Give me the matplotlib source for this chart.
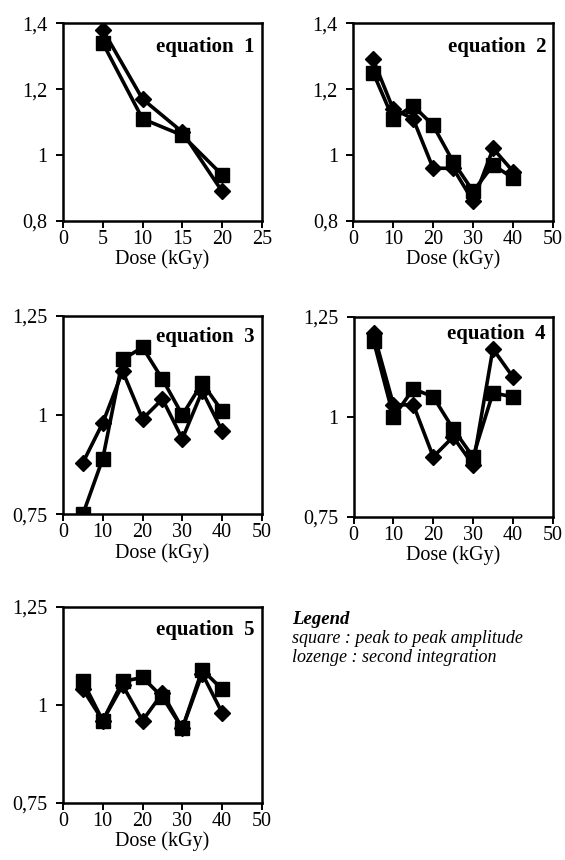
import matplotlib
matplotlib.use("Agg")
import matplotlib.pyplot as plt

plt.rcParams['font.family'] = ['Liberation Serif', 'DejaVu Serif']

dose_short = [5, 10, 15, 20]
dose = [5, 10, 15, 20, 25, 30, 35, 40]

# square : peak to peak amplitude, lozenge : second integration
eq1_square = [1.34, 1.11, 1.06, 0.94]
eq1_lozenge = [1.38, 1.17, 1.07, 0.89]
eq2_square = [1.25, 1.11, 1.15, 1.09, 0.98, 0.89, 0.97, 0.93]
eq2_lozenge = [1.29, 1.14, 1.11, 0.96, 0.96, 0.86, 1.02, 0.95]
eq3_square = [0.75, 0.89, 1.14, 1.17, 1.09, 1.00, 1.08, 1.01]
eq3_lozenge = [0.88, 0.98, 1.11, 0.99, 1.04, 0.94, 1.06, 0.96]
eq4_square = [1.19, 1.00, 1.07, 1.05, 0.97, 0.90, 1.06, 1.05]
eq4_lozenge = [1.21, 1.03, 1.03, 0.90, 0.95, 0.88, 1.17, 1.10]
eq5_square = [1.06, 0.96, 1.06, 1.07, 1.02, 0.94, 1.09, 1.04]
eq5_lozenge = [1.04, 0.96, 1.05, 0.96, 1.03, 0.94, 1.08, 0.98]

yt_a = [0.8, 1.0, 1.2, 1.4]
yl_a = ['0,8', '1', '1,2', '1,4']
yt_b = [0.75, 1.0, 1.25]
yl_b = ['0,75', '1', '1,25']

fig = plt.figure(figsize=(5.65, 8.6), dpi=100)

panels = [
    ([0.1115, 0.743, 0.352, 0.230], dose_short, eq1_square, eq1_lozenge, 25, 5, yt_a, yl_a, 'equation  1', 0.88),
    ([0.625, 0.743, 0.354, 0.230], dose, eq2_square, eq2_lozenge, 50, 10, yt_a, yl_a, 'equation  2', 0.88),
    ([0.1115, 0.402, 0.352, 0.231], dose, eq3_square, eq3_lozenge, 50, 10, yt_b, yl_b, 'equation  3', 0.89),
    ([0.626, 0.399, 0.352, 0.2326], dose, eq4_square, eq4_lozenge, 50, 10, yt_b, yl_b, 'equation  4', 0.915),
    ([0.1115, 0.0663, 0.352, 0.228], dose, eq5_square, eq5_lozenge, 50, 10, yt_b, yl_b, 'equation  5', 0.88),
]

for rect, x, sq, loz, xmax, step, yt, yl, title, ty in panels:
    ax = fig.add_axes(rect)
    ax.plot(x, loz, color='black', lw=2.6, marker='D', ms=8.5, zorder=3)
    ax.plot(x, sq, color='black', lw=2.6, marker='s', ms=10, zorder=3)
    ax.set_xlim(0, xmax)
    ax.set_ylim(yt[0], yt[-1])
    ax.set_xticks(range(0, xmax + 1, step))
    ax.set_yticks(yt)
    ax.set_yticklabels(yl)
    ax.tick_params(direction='out', length=5, width=1.4, labelsize=14.5)
    ax.tick_params(axis='y', pad=6)
    ax.tick_params(axis='x', pad=1.5)
    for s in ax.spines.values():
        s.set_linewidth(1.8)
    ax.set_xlabel('Dose (kGy)', fontsize=14.5, labelpad=0.5)
    ax.text(0.965, ty, title, transform=ax.transAxes, ha='right', va='center',
            fontsize=15, fontweight='bold')

fig.text(0.517, 0.280, 'Legend', fontsize=13.5, fontweight='bold', style='italic', va='center')
fig.text(0.517, 0.258, 'square : peak to peak amplitude', fontsize=13, style='italic', va='center')
fig.text(0.517, 0.236, 'lozenge : second integration', fontsize=13, style='italic', va='center')

plt.savefig('out.png', dpi=100)
